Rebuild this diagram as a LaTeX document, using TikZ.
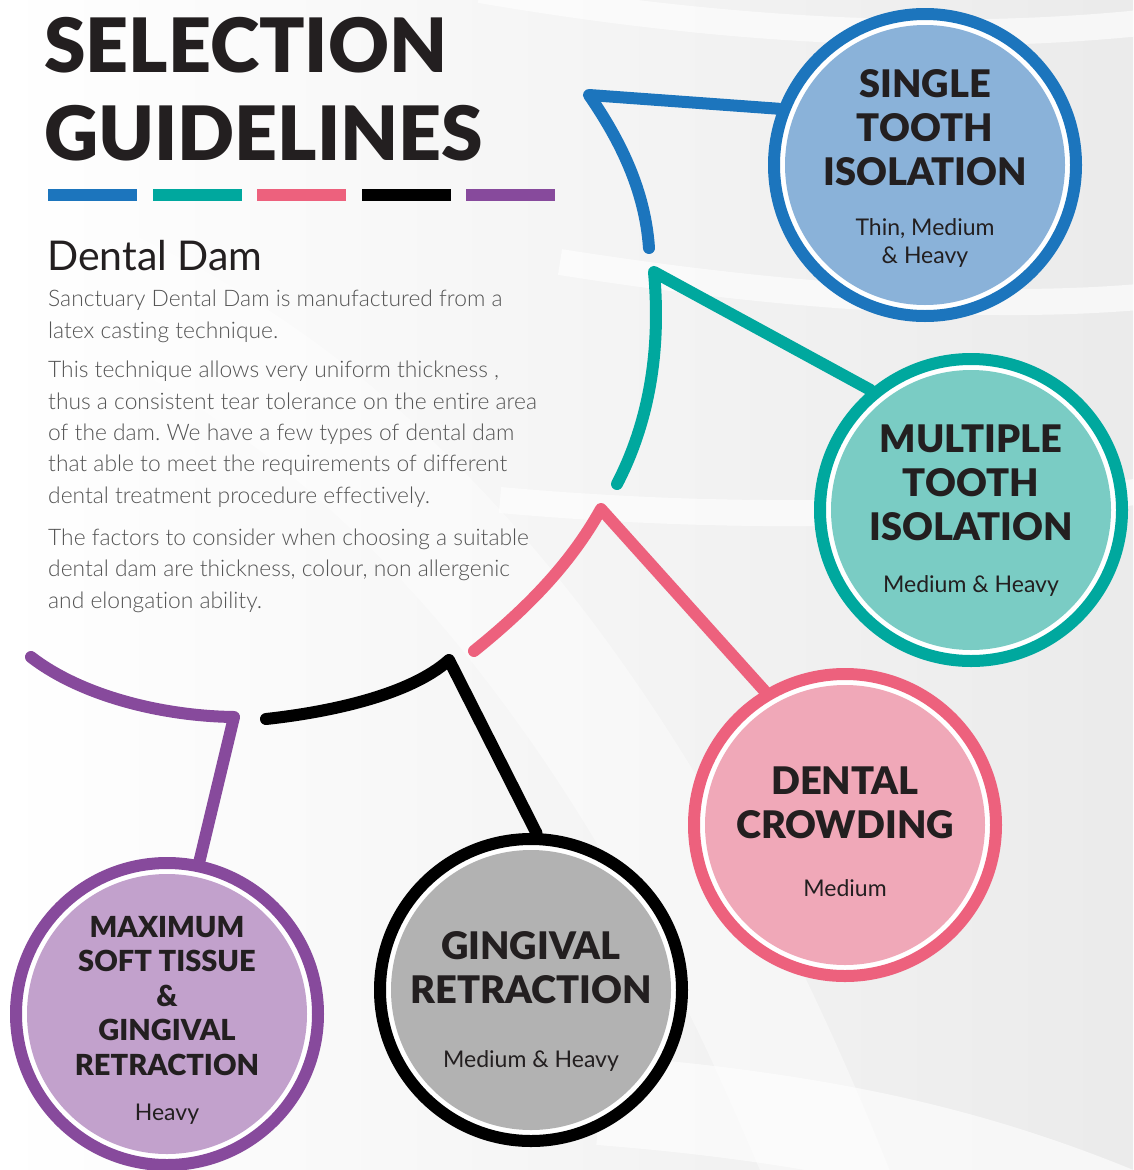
\documentclass[tikz,border=0pt]{standalone}
\usepackage{fontspec}
\setmainfont{Lato}
\newfontfamily\heavyfont{Lato Black}
\newfontfamily\lightfont[Ligatures=NoCommon]{Lato Light}
\usepackage{tikz}
\usetikzlibrary{positioning}
\definecolor{inkcolor}{rgb}{0.137,0.122,0.125}
\definecolor{bodycolor}{rgb}{0.33,0.33,0.33}
\definecolor{blueline}{rgb}{0.11,0.46,0.74}
\definecolor{bluefill}{rgb}{0.54,0.70,0.85}
\definecolor{tealline}{rgb}{0,0.66,0.62}
\definecolor{tealfill}{rgb}{0.48,0.80,0.77}
\definecolor{pinkline}{rgb}{0.93,0.38,0.49}
\definecolor{pinkfill}{rgb}{0.94,0.66,0.72}
\definecolor{blackline}{rgb}{0,0,0}
\definecolor{greyfill}{rgb}{0.70,0.70,0.70}
\definecolor{purpleline}{rgb}{0.53,0.29,0.61}
\definecolor{purplefill}{rgb}{0.76,0.63,0.80}
\frenchspacing

\begin{document}
\begin{tikzpicture}[x=1pt,y=-1pt,line cap=round,line join=round,
                    bubble/.style 2 args={circle,draw=#1,fill=white,line width=12pt,
                      minimum size=302pt,inner sep=0pt,
                      path picture={\fill[#2] (path picture bounding box.center) circle (140pt);}}]
  \tikzstyle{link}=[line width=12pt]
  \tikzstyle{swoosh}=[white,line width=26pt,opacity=0.6,line cap=butt]
  \tikzstyle{heading}=[inner sep=0pt,text=inkcolor,align=center,font=\heavyfont\fontsize{38}{44}\selectfont]
  \tikzstyle{smallheading}=[inner sep=0pt,text=inkcolor,align=center,font=\heavyfont\fontsize{29}{34.5}\selectfont]
  \tikzstyle{weight}=[inner sep=0pt,text=inkcolor,align=center,font=\fontsize{23}{28}\selectfont]
  \tikzstyle{para}=[inner sep=0pt,anchor=base west,align=left,text=bodycolor,
                    font=\lightfont\fontsize{22.8}{31.3}\selectfont]

  \useasboundingbox (0,0) rectangle (1133,1170);
  \shade[left color=white,right color=black!8] (0,0) rectangle (1133,1170);
  \draw[swoosh] (480,-10) .. controls (760,38) and (980,40) .. (1150,22);
  \draw[swoosh] (560,262) .. controls (800,300) and (1000,310) .. (1150,296);
  \draw[swoosh] (500,500) .. controls (780,525) and (1000,510) .. (1150,490);
  \draw[white,line width=120pt,opacity=0.4,line cap=butt] (-60,230) .. controls (300,320) and (620,620) .. (860,1260);
  \draw[white,line width=90pt,opacity=0.6,line cap=butt] (600,1100) .. controls (850,1120) and (1000,1160) .. (1160,1230);

  \node[anchor=base west,inner sep=0pt,text=inkcolor,font=\heavyfont\fontsize{75}{88}\selectfont]
        (T1) at (44,72) {SELECTION};
  \node[anchor=base west,inner sep=0pt,text=inkcolor,font=\heavyfont\fontsize{75}{88}\selectfont]
        (T2) at (44,160) {GUIDELINES};
  \foreach \c [count=\i from 0] in {blueline,tealline,pinkline,blackline,purpleline}
    \fill[\c] (48+\i*104.5,189) rectangle ++(89,12);

  \node[anchor=base west,inner sep=0pt,text=inkcolor,font=\fontsize{41}{46}\selectfont]
        (H) at (47,270) {Dental Dam};
  % paragraphs sit on the baseline of their last line
  \node[para] (P1) at (48,338) {Sanctuary Dental Dam is manufactured from a\\latex casting technique.};
  \node[para] (P2) at (48,503) {This technique allows very uniform thickness ,\\thus a consistent tear tolerance on the entire area\\of the dam. We have a few types of dental dam\\that able to meet the requirements of different\\dental treatment procedure effectively.};
  \node[para] (P3) at (48,608) {The factors to consider when choosing a suitable\\dental dam are thickness, colour, non allergenic\\and elongation ability.};

  \node[bubble={blueline}{bluefill}]     (S) at (925,165)  {};
  \node[bubble={tealline}{tealfill}]     (M) at (971,510)  {};
  \node[bubble={pinkline}{pinkfill}]     (C) at (845,825)  {};
  \node[bubble={blackline}{greyfill}]    (G) at (531,990)  {};
  \node[bubble={purpleline}{purplefill}] (X) at (167,1014) {};

  \node[heading] (St) at (925,128) {SINGLE\\TOOTH\\ISOLATION};
  \node[weight]  (Sw) [below=32pt of St] {Thin, Medium\\\& Heavy};
  \node[heading] (Mt) at (971,483) {MULTIPLE\\TOOTH\\ISOLATION};
  \node[weight]  (Mw) [below=34pt of Mt] {Medium \& Heavy};
  \node[heading] (Ct) at (845,803) {DENTAL\\CROWDING};
  \node[weight]  (Cw) [below=40pt of Ct] {Medium};
  \node[heading] (Gt) at (531,968) {GINGIVAL\\RETRACTION};
  \node[weight]  (Gw) [below=46pt of Gt] {Medium \& Heavy};
  \node[smallheading] (Xt) at (167,996) {MAXIMUM\\SOFT TISSUE\\\&\\GINGIVAL\\RETRACTION};
  \node[weight]  (Xw) [below=28pt of Xt] {Heavy};

  \coordinate (Sb) at (589,95);
  \coordinate (Se) at (649,248);
  \coordinate (Mb) at (654,272);
  \coordinate (Me) at (617,484);
  \coordinate (Cb) at (601,509);
  \coordinate (Ce) at (474,651);
  \coordinate (Gb) at (449,660);
  \coordinate (Ge) at (266,719);
  \coordinate (Xb) at (234,717);
  \coordinate (Xe) at (31,657);

  \draw[link,blueline]   (S.159)  -- (Sb) .. controls (620,140) and (645,190) .. (Se);
  \draw[link,tealline]   (M.130)  -- (Mb) .. controls (662,360) and (645,430) .. (Me);
  \draw[link,pinkline]   (C.121)  -- (Cb) .. controls (570,565) and (525,610) .. (Ce);
  \draw[link,blackline]  (G.88)   -- (Gb) .. controls (410,695) and (330,712) .. (Ge);
  \draw[link,purpleline] (X.78)   -- (Xb) .. controls (160,716) and (80,695) .. (Xe);

\end{tikzpicture}
\end{document}
